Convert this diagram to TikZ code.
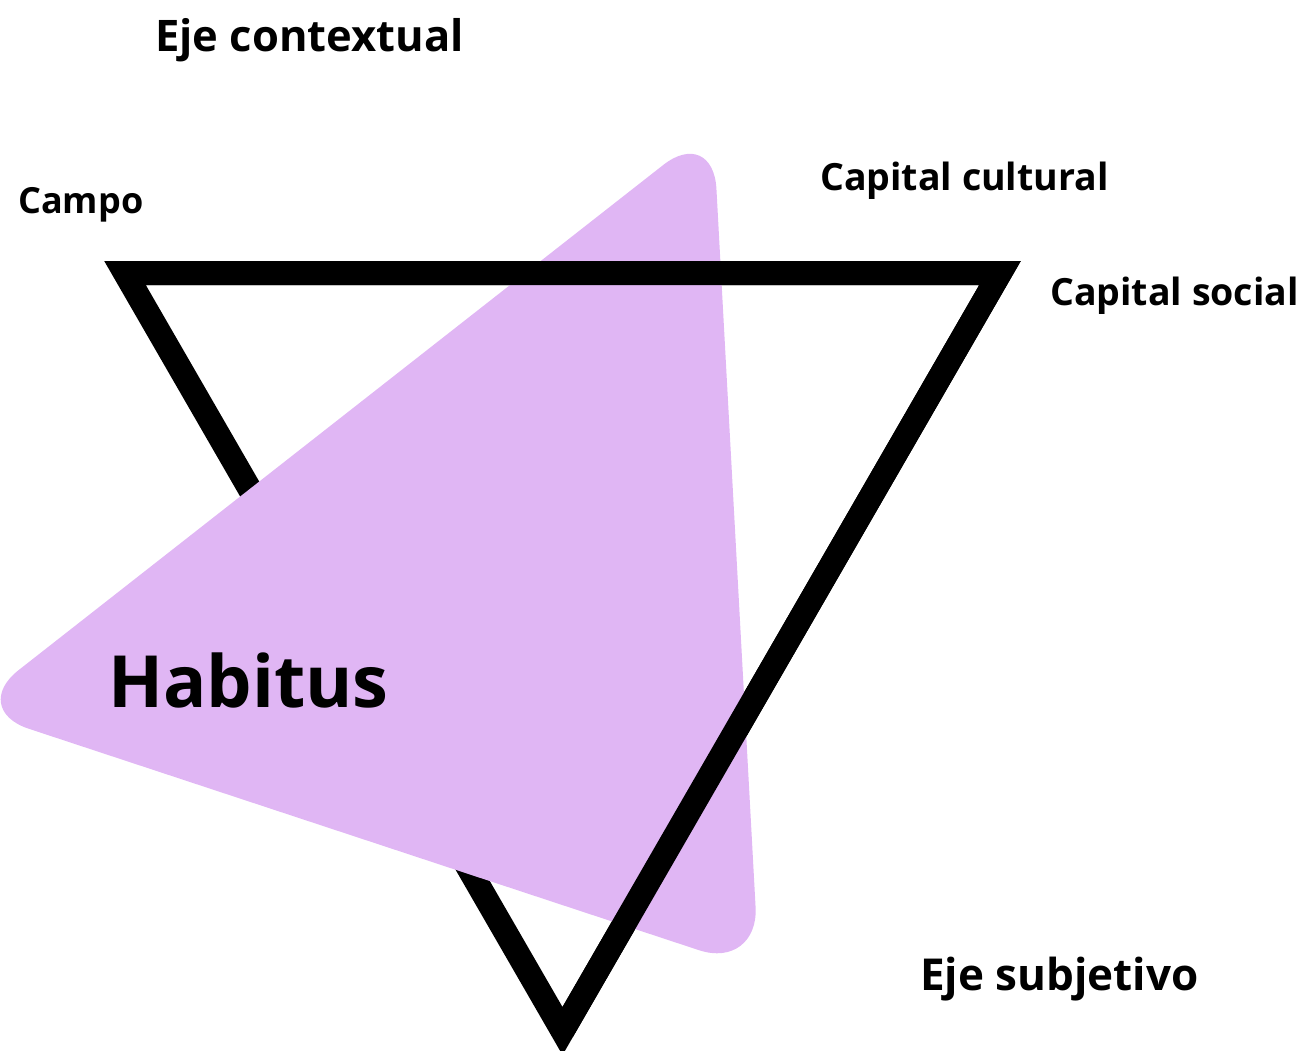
\documentclass[tikz,border=0pt]{standalone}
\usepackage{fontspec}
\setmainfont{Open Sans}
\usetikzlibrary{calc}
\definecolor{pinkfill}{RGB}{224,182,244}
\begin{document}
\begin{tikzpicture}[x=1pt,y=-1pt,
  lbl/.style={inner sep=0pt, anchor=base west, text=black},
  edge/.style={line width=24pt, line join=miter, miter limit=10, draw=black}]
\useasboundingbox (0,0) rectangle (1308,1051);
% black triangle
\coordinate (A) at (125,273);
\coordinate (B) at (1000,273);
\coordinate (C) at (562.5,1031);
\draw[edge] (A) -- (B) -- (C) -- cycle;
% pink rounded triangle
\coordinate (T) at (713,126);
\coordinate (L) at (-31,709);
\coordinate (R) at (759,970);
\coordinate (M) at ($(T)!0.5!(L)$);
\fill[pinkfill, rounded corners=63pt] (M) -- (L) -- (R) -- (T) -- cycle;
% top and right edges over the pink
\draw[edge, line cap=butt] (A) -- (B) -- (C);
% labels
\node[lbl, font=\fontsize{43.5}{50}\selectfont\bfseries] (ejec) at (155,52) {Eje contextual};
\node[lbl, font=\fontsize{36}{42}\selectfont\bfseries] (campo) at (18,213) {Campo};
\node[lbl, font=\fontsize{37.5}{42}\selectfont\bfseries] (capc) at (820,190) {Capital cultural};
\node[lbl, font=\fontsize{37.5}{42}\selectfont\bfseries] (caps) at (1050,305) {Capital social};
\node[lbl, font=\fontsize{44}{50}\selectfont\bfseries] (ejes) at (920,990) {Eje subjetivo};
\node[lbl, font=\fontsize{72}{80}\selectfont\bfseries] (hab) at (108,707) {Habitus};
\end{tikzpicture}
\end{document}
